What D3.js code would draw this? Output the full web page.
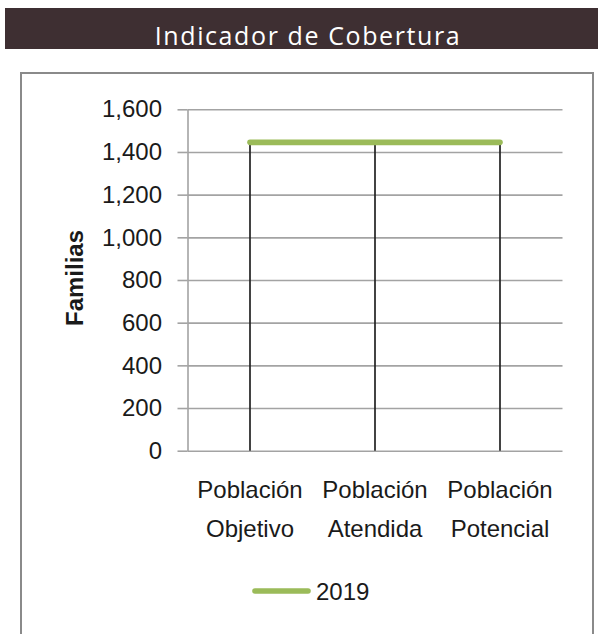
<!DOCTYPE html>
<html>
<head>
<meta charset="utf-8">
<script src="https://cdn.jsdelivr.net/npm/d3@7"></script>
<style>
  body { margin: 0; background: #fff; }
  svg { display: block; }
</style>
</head>
<body>
<svg id="chart"></svg>
<script>
const categories = ['Población Objetivo', 'Población Atendida', 'Población Potencial'];
const values2019 = [1445, 1445, 1445];
const yTicks = [0, 200, 400, 600, 800, 1000, 1200, 1400, 1600];
const seriesName = '2019';

const width = 598;
const height = 634;
const plot = { left: 187.5, right: 562.5, top: 109.3, bottom: 450.7 };

const svg = d3.select('#chart')
    .attr('width', width)
    .attr('height', height);

// header bar
svg.append('rect')
    .attr('x', 5).attr('y', 8)
    .attr('width', 593).attr('height', 41)
    .attr('fill', '#3e2f32');
svg.append('text')
    .attr('x', 308).attr('y', 45)
    .attr('text-anchor', 'middle')
    .attr('fill', '#fff')
    .style('font-family', '"Open Sans", sans-serif')
    .style('font-size', '25px')
    .style('letter-spacing', '1.6px')
    .text('Indicador de Cobertura');

// chart frame
svg.append('rect')
    .attr('x', 21).attr('y', 73)
    .attr('width', 572).attr('height', 600)
    .attr('fill', 'none')
    .attr('stroke', '#8a8a8a')
    .attr('stroke-width', 2);

const x = d3.scaleBand()
    .domain(categories)
    .range([plot.left, plot.right])
    .padding(0);

const y = d3.scaleLinear()
    .domain([0, 1600])
    .range([plot.bottom, plot.top]);

const font = '"Liberation Sans", Arial, sans-serif';

// gridlines
svg.append('g')
    .attr('class', 'grid')
    .attr('transform', `translate(${plot.left},0)`)
    .call(d3.axisRight(y).tickValues(yTicks).tickSize(plot.right - plot.left).tickFormat(''))
    .call(g => g.select('.domain').remove())
    .call(g => g.selectAll('line').attr('stroke', '#a3a3a3').attr('stroke-width', 1.6));

// y axis
svg.append('g')
    .attr('transform', `translate(${plot.left},0)`)
    .call(d3.axisLeft(y).tickValues(yTicks).tickSize(10).tickSizeOuter(0).tickPadding(15.5).tickFormat(d3.format(',')))
    .call(g => g.select('.domain').attr('stroke', '#a3a3a3').attr('stroke-width', 1.6))
    .call(g => g.selectAll('line').attr('stroke', '#a3a3a3').attr('stroke-width', 1.6))
    .call(g => g.selectAll('text')
        .attr('fill', '#1a1a1a')
        .style('font-family', font)
        .style('font-size', '24px'));

// x axis labels
svg.append('g')
    .attr('transform', `translate(0,${plot.bottom})`)
    .call(d3.axisBottom(x).tickSize(0).tickPadding(0))
    .call(g => g.select('.domain').remove())
    .call(g => g.selectAll('text').each(function(d) {
        const t = d3.select(this).text(null)
            .attr('y', 0).attr('dy', null)
            .attr('fill', '#1a1a1a')
            .style('font-family', font)
            .style('font-size', '24px');
        d.split(' ').forEach((w, i) => {
            t.append('tspan').attr('x', 0).attr('y', 47 + i * 39).text(w);
        });
    }));

// y axis title
svg.append('text')
    .attr('transform', 'translate(83,278) rotate(-90)')
    .attr('text-anchor', 'middle')
    .attr('fill', '#1a1a1a')
    .style('font-family', font)
    .style('font-size', '24px')
    .style('font-weight', 'bold')
    .text('Familias');

const cx = d => x(d) + x.bandwidth() / 2;

// drop lines
svg.append('g')
    .selectAll('line')
    .data(categories)
    .join('line')
    .attr('x1', d => cx(d)).attr('x2', d => cx(d))
    .attr('y1', (d, i) => y(values2019[i]))
    .attr('y2', y(0))
    .attr('stroke', '#222')
    .attr('stroke-width', 1.7);

// series line
const line = d3.line()
    .x((d, i) => cx(categories[i]))
    .y(d => y(d));

svg.append('path')
    .datum(values2019)
    .attr('d', line)
    .attr('fill', 'none')
    .attr('stroke', '#9bbb59')
    .attr('stroke-width', 5.6)
    .attr('stroke-linecap', 'round');

// legend
const legend = svg.append('g').attr('transform', 'translate(0,591)');
legend.append('line')
    .attr('x1', 255).attr('x2', 308)
    .attr('stroke', '#9bbb59')
    .attr('stroke-width', 5.6)
    .attr('stroke-linecap', 'round');
legend.append('text')
    .attr('x', 316).attr('y', 9)
    .attr('fill', '#1a1a1a')
    .style('font-family', font)
    .style('font-size', '24px')
    .text(seriesName);
</script>
</body>
</html>
